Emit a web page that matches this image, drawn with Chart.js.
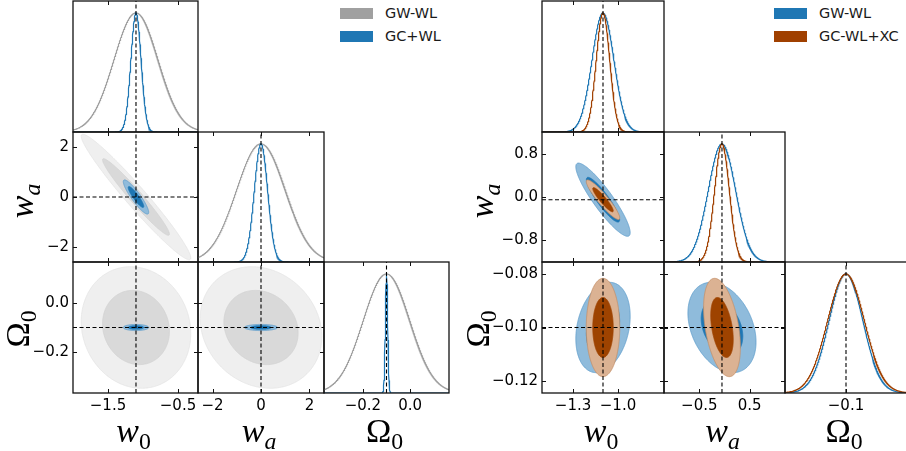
<!DOCTYPE html>
<html>
<head>
<meta charset="utf-8">
<script src="https://cdn.jsdelivr.net/npm/chart.js@4.4.0/dist/chart.umd.min.js"></script>
<style>
  body { margin: 0; background: #fff; }
  #fig { position: relative; width: 906px; height: 451px; overflow: hidden; background: #fff; }
  #fig canvas { position: absolute; }
  .lab { position: absolute; font-family: 'Liberation Serif', 'DejaVu Serif', serif; font-size: 34px; line-height: 34px; color: #000; white-space: nowrap; }
  .lab sub { font-size: 0.7em; line-height: 0; vertical-align: -0.28em; }
  .key { position: absolute; font-family: 'DejaVu Sans', sans-serif; font-size: 14.5px; color: #1a1a1a; white-space: nowrap; line-height: 11px; }
  .key b { display: inline-block; width: 33px; height: 11px; vertical-align: top; margin-right: 12px; }
</style>
</head>
<body>
<div id="fig"></div>
<script>
// parameters: w0, wa, Omega0
const paramLabels = ['<i>w</i><sub>0</sub>', '<i>w</i><sub><i>a</i></sub>', '\u03A9<sub>0</sub>'];

// left triangle: GW-WL against GC+WL
const leftFiducial = [-1.1, 0.0, -0.1];
const leftRange = [[-2.0, -0.214], [-2.6, 2.6], [-0.365, 0.165]];
const leftTicksX = [[-1.5, -0.5], [-2, 0, 2], [-0.2, 0.0]];
const leftTickLabelsX = [['\u22121.5', '\u22120.5'], ['\u22122', '0', '2'], ['\u22120.2', '0.0']];
const leftTicksY = [[], [-2, 0, 2], [-0.2, 0.0]];
const leftTickLabelsY = [[], ['\u22122', '0', '2'], ['\u22120.2', '0.0']];
const gwSigmaLeft = [0.315, 1.01, 0.099];
const gwCorrLeft = [-0.97, -0.1, -0.15];      // (w0,wa), (w0,Om), (wa,Om)
const gcSigmaLeft = [0.073, 0.275, 0.005];
const gcCorrLeft = [-0.9, 0.0, 0.0];

// right triangle: GW-WL against GC-WL+XC
const rightFiducial = [-1.1, -0.05, -0.1];
const rightRange = [[-1.507, -0.693], [-1.2, 1.2], [-0.1245, -0.0755]];
const rightTicksX = [[-1.3, -1.0], [-0.5, 0.5], [-0.1]];
const rightTickLabelsX = [['\u22121.3', '\u22121.0'], ['\u22120.5', '0.5'], ['\u22120.1']];
const rightTicksY = [[], [-0.8, 0.0, 0.8], [-0.12, -0.10, -0.08]];
const rightTickLabelsY = [[], ['\u22120.8', '0.0', '0.8'], ['\u22120.12', '\u22120.10', '\u22120.08']];
const gwSigmaRight = [0.073, 0.272, 0.0068];
const gwCorrRight = [-0.9, 0.25, -0.32];
const xcSigmaRight = [0.045, 0.147, 0.0074];
const xcCorrRight = [-0.92, 0.0, -0.4];

// delta chi^2 for the 95% and 68% contours
const levels = [6.17, 2.30];

const grey = { line: '#a0a0a0', fills: ['#efefef', '#d9d9d9'], edges: ['#e3e3e3', '#d2d2d2'], key: '#a0a0a0' };
const blue = { line: '#1f77b4', fills: ['#8fbbdb', '#1f77b4'], edges: ['#5d9cca', '#1f77b4'], key: '#1f77b4' };
const brown = { line: '#a04000', fills: ['#dbb293', '#9e4300'], edges: ['#c48e66', '#9e4300'], key: '#a04000' };

const rows = [1, 132, 262, 393];
const PAD = 14, YW = 70, XH = 30;
const fig = document.getElementById('fig');

const framePlugin = {
  id: 'frame',
  afterDatasetsDraw(chart, args, opts) {
    const { ctx, chartArea: a, scales } = chart;
    ctx.save();
    ctx.strokeStyle = '#111';
    ctx.lineWidth = 1;
    ctx.beginPath();
    scales.x.ticks.forEach(t => {
      const px = Math.round(scales.x.getPixelForValue(t.value)) + 0.5;
      ctx.moveTo(px, a.bottom); ctx.lineTo(px, a.bottom - 4);
      ctx.moveTo(px, a.top); ctx.lineTo(px, a.top + 4);
    });
    if (opts.yTicks) {
      scales.y.ticks.forEach(t => {
        const py = Math.round(scales.y.getPixelForValue(t.value)) + 0.5;
        ctx.moveTo(a.left, py); ctx.lineTo(a.left + 4, py);
        ctx.moveTo(a.right, py); ctx.lineTo(a.right - 4, py);
      });
    }
    ctx.stroke();
    ctx.lineWidth = 1.3;
    ctx.strokeRect(a.left, a.top, a.right - a.left, a.bottom - a.top);
    ctx.restore();
  }
};

function gaussian(mu, sigma, range) {
  const pts = [];
  const n = 500;
  for (let k = 0; k <= n; k++) {
    const x = range[0] + (range[1] - range[0]) * k / n;
    pts.push({ x: x, y: Math.exp(-0.5 * ((x - mu) / sigma) ** 2) });
  }
  return pts;
}

function ellipse(mx, my, sx, sy, rho, d2) {
  const r = Math.sqrt(d2), q = Math.sqrt(1 - rho * rho);
  const pts = [];
  for (let k = 0; k <= 160; k++) {
    const t = 2 * Math.PI * k / 160;
    pts.push({ x: mx + r * sx * Math.cos(t), y: my + r * sy * (rho * Math.cos(t) + q * Math.sin(t)) });
  }
  return pts;
}

function axis(range, ticks, labels, show, isX) {
  return {
    type: 'linear', min: range[0], max: range[1], bounds: 'data',
    grid: { display: false, drawTicks: false },
    border: { display: false },
    afterBuildTicks: s => { s.ticks = ticks.map(v => ({ value: v })); },
    afterFit: s => { if (isX) s.height = XH; else s.width = YW; },
    ticks: {
      display: show, padding: 4, color: '#000', autoSkip: false, maxRotation: 0,
      font: { family: 'DejaVu Sans', size: 15 },
      callback: (v, k) => labels[k]
    }
  };
}

function dashed(a, b) {
  return { data: [a, b], borderColor: '#000', borderWidth: 1.1, borderDash: [4, 2.5], pointRadius: 0, fill: false };
}

function panel(c, i, j) {
  const x0 = c.cols[j], w = c.cols[j + 1] - x0;
  const y0 = rows[i], h = rows[i + 1] - y0;
  const canvas = document.createElement('canvas');
  canvas.width = w + 2 * PAD + YW;
  canvas.height = h + 2 * PAD + XH;
  canvas.style.left = (x0 - PAD - YW) + 'px';
  canvas.style.top = (y0 - PAD) + 'px';
  fig.appendChild(canvas);

  const sets = [];
  const diag = i === j;
  let yRange;
  if (diag) {
    yRange = [0, 1.1];
    c.probes.forEach(p => sets.push({
      data: gaussian(c.fid[j], p.sigma[j], c.range[j]),
      borderColor: p.style.line, borderWidth: 1.2, pointRadius: 0, fill: false
    }));
    sets.push(dashed({ x: c.fid[j], y: 0 }, { x: c.fid[j], y: 1.1 }));
  } else {
    yRange = c.range[i];
    const ci = i + j - 1;
    c.probes.forEach(p => {
      levels.forEach((d2, k) => sets.push({
        data: ellipse(c.fid[j], c.fid[i], p.sigma[j], p.sigma[i], p.corr[ci], d2),
        borderColor: p.style.edges[k], backgroundColor: p.style.fills[k],
        borderWidth: 0.8, pointRadius: 0, fill: 'shape', tension: 0.01
      }));
    });
    sets.push(dashed({ x: c.fid[j], y: yRange[0] }, { x: c.fid[j], y: yRange[1] }));
    sets.push(dashed({ x: c.range[j][0], y: c.fid[i] }, { x: c.range[j][1], y: c.fid[i] }));
  }

  new Chart(canvas, {
    type: 'line',
    data: { datasets: sets.reverse() },
    options: {
      responsive: false, animation: false, events: [],
      layout: { padding: PAD },
      plugins: { legend: { display: false }, tooltip: { enabled: false }, frame: { yTicks: !diag } },
      scales: {
        x: axis(c.range[j], c.ticksX[j], c.tickLabelsX[j], i === 2, true),
        y: diag ? axis(yRange, [], [], false, false)
                : axis(yRange, c.ticksY[i], c.tickLabelsY[i], j === 0, false)
      }
    },
    plugins: [framePlugin]
  });
}

function addLabel(html, x, y, rotate) {
  const d = document.createElement('div');
  d.className = 'lab';
  d.innerHTML = html;
  d.style.left = x + 'px';
  d.style.top = y + 'px';
  d.style.transform = rotate ? 'translate(-50%,-50%) rotate(-90deg)' : 'translateX(-50%)';
  fig.appendChild(d);
}

function addKey(names, probes, x, y) {
  probes.forEach((p, k) => {
    const d = document.createElement('div');
    d.className = 'key';
    d.style.left = x + 'px';
    d.style.top = (y + 23 * k) + 'px';
    d.innerHTML = '<b style="background:' + p.style.key + '"></b>' + names[k];
    fig.appendChild(d);
  });
}

const corners = [
  {
    cols: [73, 198, 324, 449], fid: leftFiducial, range: leftRange,
    ticksX: leftTicksX, tickLabelsX: leftTickLabelsX, ticksY: leftTicksY, tickLabelsY: leftTickLabelsY,
    probes: [
      { sigma: gwSigmaLeft, corr: gwCorrLeft, style: grey },
      { sigma: gcSigmaLeft, corr: gcCorrLeft, style: blue }
    ],
    names: ['GW-WL', 'GC+WL'], keyAt: [340, 8], yTitleX: [22, 18]
  },
  {
    cols: [542, 664, 785, 907], fid: rightFiducial, range: rightRange,
    ticksX: rightTicksX, tickLabelsX: rightTickLabelsX, ticksY: rightTicksY, tickLabelsY: rightTickLabelsY,
    probes: [
      { sigma: gwSigmaRight, corr: gwCorrRight, style: blue },
      { sigma: xcSigmaRight, corr: xcCorrRight, style: brown }
    ],
    names: ['GW-WL', 'GC-WL+XC'], keyAt: [774, 8], yTitleX: [482, 478]
  }
];

corners.forEach(c => {
  for (let i = 0; i < 3; i++) {
    for (let j = 0; j <= i; j++) panel(c, i, j);
  }
  for (let j = 0; j < 3; j++) addLabel(paramLabels[j], (c.cols[j] + c.cols[j + 1]) / 2 - 2, 414, false);
  addLabel(paramLabels[1], c.yTitleX[0], (rows[1] + rows[2]) / 2 + 4, true);
  addLabel(paramLabels[2], c.yTitleX[1], (rows[2] + rows[3]) / 2 + 1, true);
  addKey(c.names, c.probes, c.keyAt[0], c.keyAt[1]);
});
</script>
</body>
</html>
